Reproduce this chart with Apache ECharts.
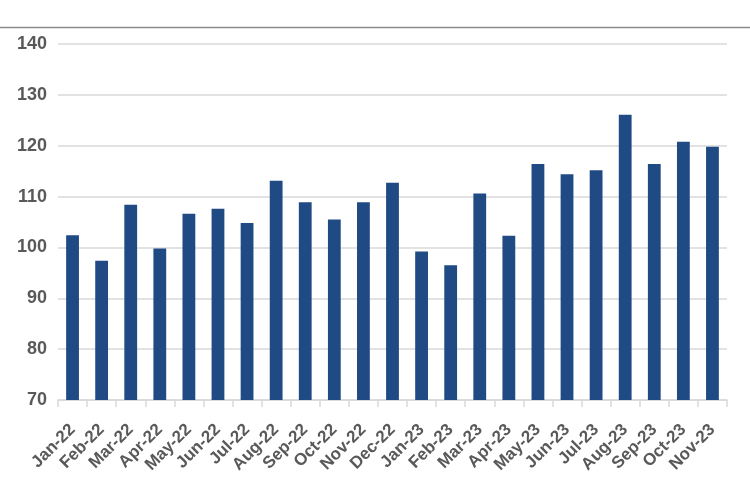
<!DOCTYPE html>
<html>
<head>
<meta charset="utf-8">
<script src="https://cdn.jsdelivr.net/npm/echarts@6/dist/echarts.min.js"></script>
<style>html,body{margin:0;padding:0;background:#fff}#c{width:750px;height:500px}</style>
</head>
<body>
<div id="c"></div>
<script>
var categories = ["Jan-22","Feb-22","Mar-22","Apr-22","May-22","Jun-22","Jul-22","Aug-22","Sep-22","Oct-22","Nov-22","Dec-22",
  "Jan-23","Feb-23","Mar-23","Apr-23","May-23","Jun-23","Jul-23","Aug-23","Sep-23","Oct-23","Nov-23"];
var values = [102.4, 97.4, 108.4, 99.8, 106.6, 107.6, 104.8, 113.1, 108.9, 105.5, 108.9, 112.7,
  99.2, 96.5, 110.6, 102.3, 116.4, 114.4, 115.2, 126.1, 116.4, 120.8, 119.8];
var yTicks = [70, 80, 90, 100, 110, 120, 130, 140];

var chart = echarts.init(document.getElementById('c'));
chart.setOption({
  animation: false,
  backgroundColor: '#ffffff',
  graphic: [{
    type: 'line',
    shape: {x1: 0, y1: 27.5, x2: 750, y2: 27.5},
    style: {stroke: '#8a8a8a', lineWidth: 1.5}
  }],
  grid: {left: 58, right: 23, top: 44, bottom: 100},
  xAxis: {
    type: 'category',
    data: categories,
    axisLine: {lineStyle: {color: '#d9d9d9', width: 1.5}},
    axisTick: {show: true, length: 7, lineStyle: {color: '#d9d9d9', width: 1.5}},
    axisLabel: {
      rotate: 45, fontSize: 17, fontWeight: 'bold', color: '#595959',
      fontFamily: 'Liberation Sans, Arial, sans-serif', margin: 27, interval: 0
    }
  },
  yAxis: {
    type: 'value',
    min: yTicks[0], max: yTicks[yTicks.length - 1], interval: 10,
    axisLine: {show: false},
    axisTick: {show: false},
    splitLine: {lineStyle: {color: '#d9d9d9', width: 1.5}},
    axisLabel: {
      fontSize: 18, fontWeight: 'bold', color: '#595959',
      fontFamily: 'Liberation Sans, Arial, sans-serif', margin: 11
    }
  },
  series: [{
    type: 'bar',
    data: values,
    barWidth: '44%',
    itemStyle: {color: '#1f4a84'}
  }]
});
</script>
</body>
</html>
